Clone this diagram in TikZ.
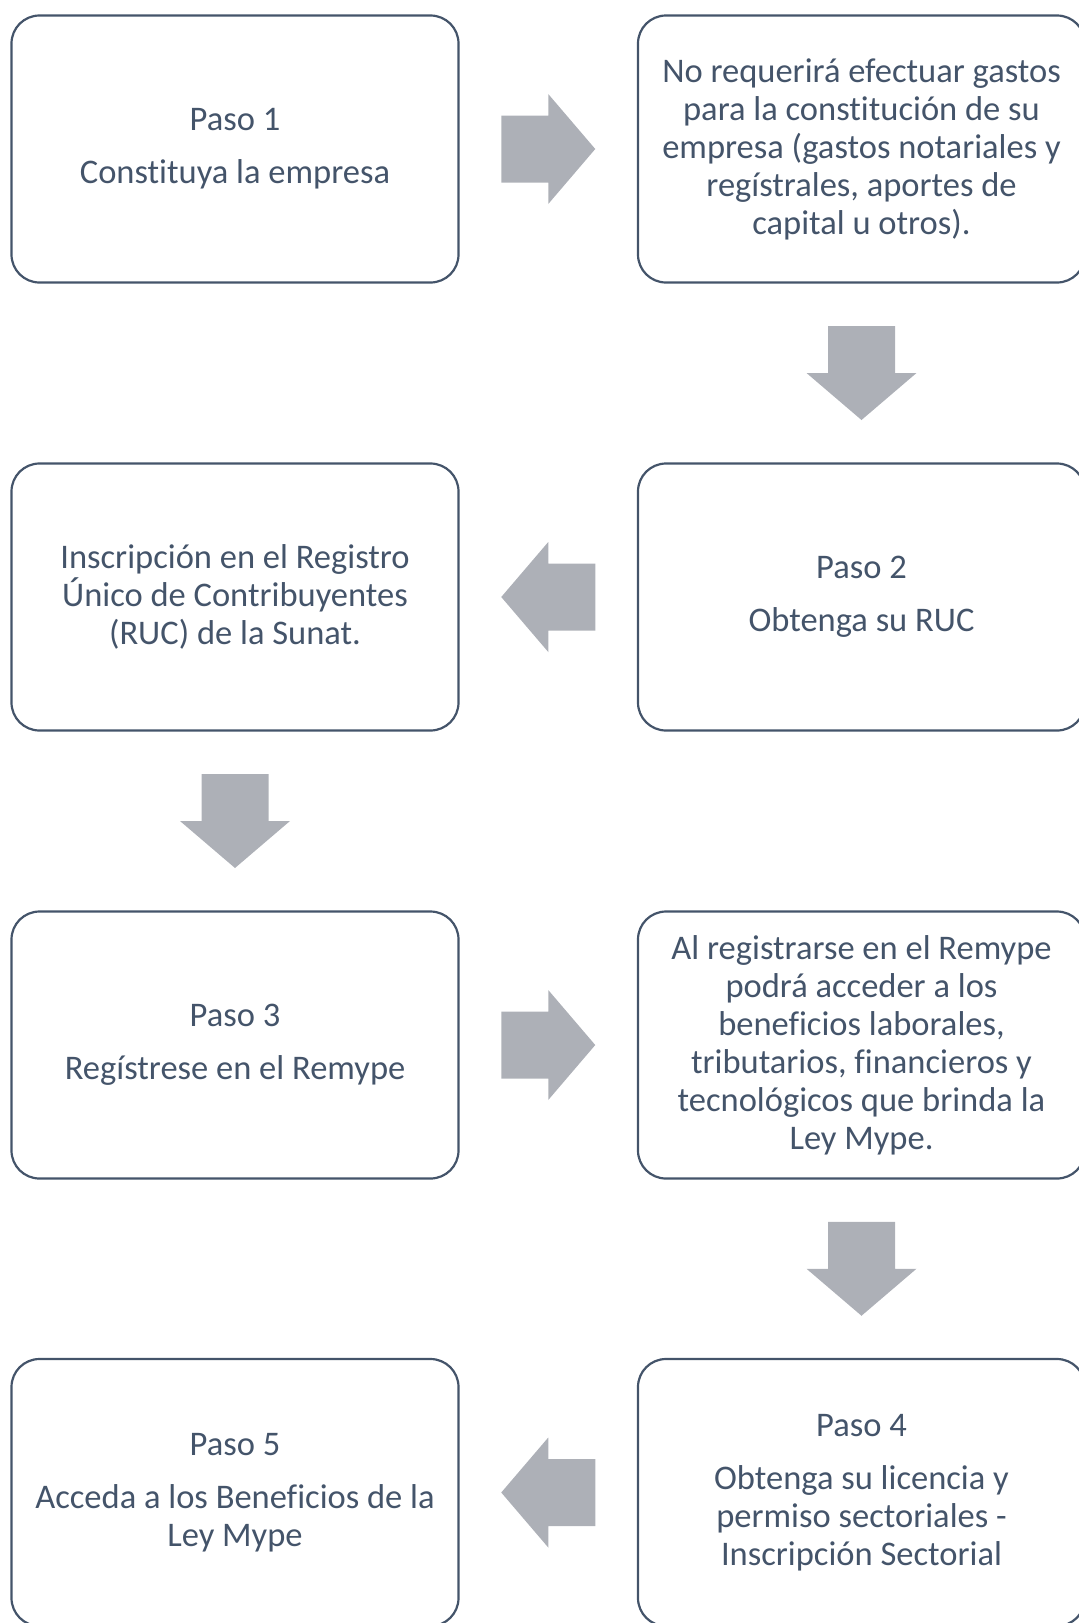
\documentclass[tikz,border=0pt]{standalone}
\usepackage{fontspec}
\setmainfont[Ligatures=NoCommon]{Carlito}
\usetikzlibrary{calc}
\definecolor{boxline}{RGB}{68,84,106}
\definecolor{txt}{RGB}{68,84,106}
\definecolor{arrowfill}{RGB}{173,176,183}
\tikzset{
  stepbox/.style={draw=boxline, line width=2.2pt, rounded corners=28pt,
    minimum width=447pt, minimum height=267pt, inner sep=0pt,
    align=center, text=txt, font=\fontsize{34.5}{38}\selectfont},
  blockarrow/.style={fill=arrowfill, draw=none}
}
\newcommand\barrow[2]{%
  \fill[blockarrow, shift={#1}, rotate=#2]
    (-47,-33.5) -- (0,-33.5) -- (0,-55) -- (47,0) -- (0,55) -- (0,33.5) -- (-47,33.5) -- cycle;}
\begin{document}
\begin{tikzpicture}[x=1pt,y=-1pt]
\useasboundingbox (0,0) rectangle (1079,1623);
\clip (0,0) rectangle (1079,1623);
\node[stepbox] (b1) at (235,149) {Paso 1\\[15pt]Constituya la empresa};
\node[stepbox] (b2) at (861.5,149) {No requerirá efectuar gastos\\para la constitución de su\\empresa (gastos notariales y\\regístrales, aportes de\\capital u otros).};
\node[stepbox] (b3) at (861.5,597) {Paso 2\\[15pt]Obtenga su RUC};
\node[stepbox] (b4) at (235,597) {Inscripción en el Registro\\Único de Contribuyentes\\(RUC) de la Sunat.};
\node[stepbox] (b5) at (235,1045) {Paso 3\\[15pt]Regístrese en el Remype};
\node[stepbox] (b6) at (861.5,1045) {Al registrarse en el Remype\\podrá acceder a los\\beneficios laborales,\\tributarios, financieros y\\tecnológicos que brinda la\\Ley Mype.};
\node[stepbox] (b7) at (861.5,1492.5) {Paso 4\\[15pt]Obtenga su licencia y\\permiso sectoriales -\\Inscripción Sectorial};
\node[stepbox] (b8) at (235,1492.5) {Paso 5\\[15pt]Acceda a los Beneficios de la\\Ley Mype};
\coordinate (a1) at ($(b1.east)!0.5!(b2.west)$);
\coordinate (a2) at ($(b2.south)!0.5!(b3.north)$);
\coordinate (a3) at ($(b3.west)!0.5!(b4.east)$);
\coordinate (a4) at ($(b4.south)!0.5!(b5.north)$);
\coordinate (a5) at ($(b5.east)!0.5!(b6.west)$);
\coordinate (a6) at ($(b6.south)!0.5!(b7.north)$);
\coordinate (a7) at ($(b7.west)!0.5!(b8.east)$);
\barrow{(a1)}{0}
\barrow{(a2)}{-90}
\barrow{(a3)}{180}
\barrow{(a4)}{-90}
\barrow{(a5)}{0}
\barrow{(a6)}{-90}
\barrow{(a7)}{180}
\end{tikzpicture}
\end{document}
